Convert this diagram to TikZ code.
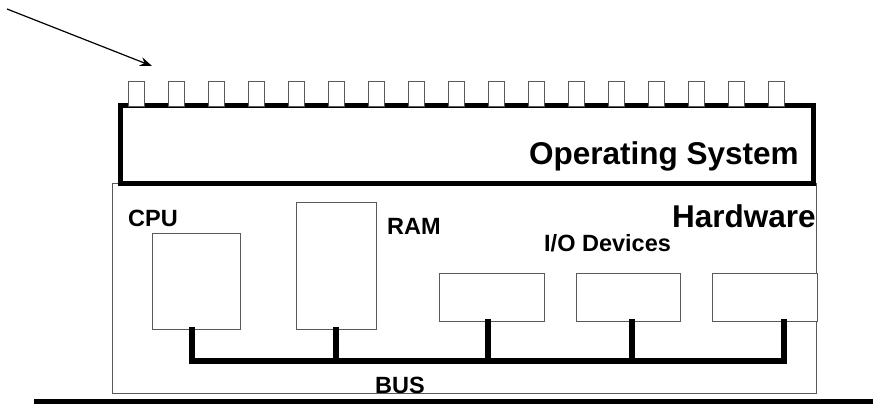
\documentclass[tikz,border=0pt]{standalone}
\usepackage{fontspec}
\setmainfont{Liberation Sans}
\usetikzlibrary{arrows.meta}
\begin{document}
\begin{tikzpicture}[x=1pt,y=-1pt,
  thick line/.style={line width=5pt},
  thin box/.style={draw=black!65,line width=0.9pt,fill=white,inner sep=0pt},
  tabbox/.style={draw=black!65,line width=0.9pt,fill=white,minimum width=16pt,minimum height=25pt,inner sep=0pt},
  bus/.style={line width=6pt},
  big label/.style={font=\bfseries\fontsize{31.5}{31.5}\selectfont,inner sep=0pt,anchor=base west},
  small label/.style={font=\bfseries\fontsize{23.5}{23.5}\selectfont,inner sep=0pt,anchor=base west}]
\useasboundingbox (0,0) rectangle (873,407);
% hardware box
\node[thin box,minimum width=704pt,minimum height=210pt,anchor=north west] (hw) at (112,183) {};
% OS box
\node[draw,thick line,minimum width=693pt,minimum height=78pt,anchor=north west,inner sep=0pt] (os) at (117.5,102.5) {};
% tabs
\foreach \i in {0,...,16}{
  \node[tabbox] (tab\i) at (136+40*\i,93.5) {};
}
% components
\node[thin box,minimum width=88pt,minimum height=96pt,anchor=north west] (cpu) at (152,233) {};
\node[thin box,minimum width=80pt,minimum height=127pt,anchor=north west] (ram) at (296,202) {};
\node[thin box,minimum width=105pt,minimum height=48pt,anchor=north west] (io1) at (439,273) {};
\node[thin box,minimum width=104pt,minimum height=48pt,anchor=north west] (io2) at (576,273) {};
\node[thin box,minimum width=105pt,minimum height=48pt,anchor=north west] (io3) at (712,273) {};
% labels
\node[big label] (oslabel) at (529,164) {Operating System};
\node[big label] (hwlabel) at (672,227) {Hardware};
\node[small label] (cpulabel) at (128,226) {CPU};
\node[small label] (ramlabel) at (387,234) {RAM};
\node[small label] (iolabel) at (544,251) {I/O Devices};
\node[small label] (buslabel) at (375,393) {BUS};
% bus
\coordinate (b1) at (192,361);
\coordinate (b2) at (336,361);
\coordinate (b3) at (488,361);
\coordinate (b4) at (632,361);
\coordinate (b5) at (784,361);
\draw[bus] ([yshift=3pt]cpu.south -| b1) |- (b5) -- ([yshift=3pt]io3.south -| b5);
\draw[bus] ([yshift=3pt]ram.south -| b2) -- (b2);
\draw[bus] ([yshift=3pt]io1.south -| b3) -- (b3);
\draw[bus] ([yshift=3pt]io2.south -| b4) -- (b4);
% ground line
\coordinate (g1) at (34,401.5);
\coordinate (g2) at (873,401.5);
\draw[thick line] (g1) -- (g2);
% arrow
\coordinate (a1) at (7,9);
\coordinate (a2) at (152,66);
\draw[line width=1.2pt,-{Stealth[length=12pt,width=9pt]}] (a1) -- (a2);
\end{tikzpicture}
\end{document}
